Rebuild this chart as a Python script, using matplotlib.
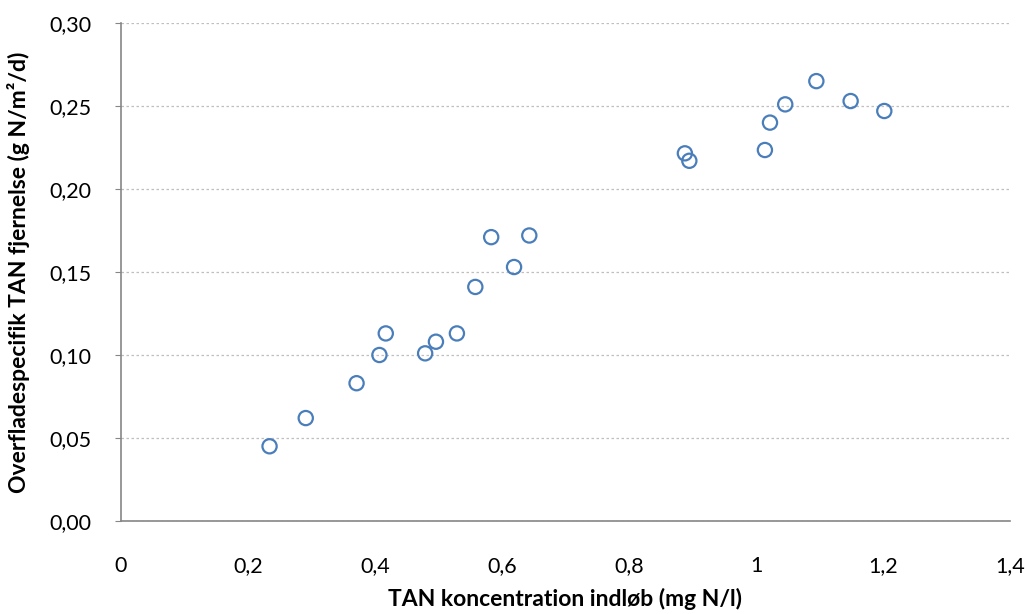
import matplotlib.pyplot as plt
from matplotlib.ticker import FuncFormatter

# TAN koncentration indløb (mg N/l) vs. overfladespecifik fjernelse (g N/m2/d)
tan_ind = [0.234, 0.291, 0.371, 0.407, 0.417, 0.479, 0.496, 0.529, 0.558, 0.583,
           0.619, 0.643, 0.888, 0.895, 1.014, 1.022, 1.046, 1.095, 1.149, 1.202]
tan_fjern = [0.045, 0.062, 0.083, 0.100, 0.113, 0.101, 0.108, 0.113, 0.141, 0.171,
             0.153, 0.172, 0.2215, 0.217, 0.2235, 0.240, 0.251, 0.265, 0.253, 0.247]

plt.rcParams['font.family'] = ['Lato', 'DejaVu Sans']

fig = plt.figure(figsize=(10.25, 6.14), dpi=100)
ax = fig.add_axes([0.118, 0.1515, 0.8674, 0.811])

ax.scatter(tan_ind, tan_fjern, s=105, facecolors='none', edgecolors='#4A7EBB',
           linewidths=1.6, zorder=3)

ax.set_xlim(0, 1.4)
ax.set_ylim(0, 0.30)
ax.set_xticks([0, 0.2, 0.4, 0.6, 0.8, 1.0, 1.2, 1.4])
ax.set_yticks([0, 0.05, 0.10, 0.15, 0.20, 0.25, 0.30])
ax.xaxis.set_major_formatter(FuncFormatter(lambda v, p: f"{v:g}".replace('.', ',')))
ax.yaxis.set_major_formatter(FuncFormatter(lambda v, p: f"{v:.2f}".replace('.', ',')))

ax.grid(axis='y', linestyle=(0, (2, 2)), color='#BFBFBF', linewidth=0.9)
ax.set_axisbelow(True)
for s in ['top', 'right']:
    ax.spines[s].set_visible(False)
for s in ['left', 'bottom']:
    ax.spines[s].set_color('#868686')
    ax.spines[s].set_linewidth(1.2)

ax.tick_params(axis='x', length=0, pad=25, labelsize=15.5)
ax.tick_params(axis='y', length=4, color='#868686', pad=17, labelsize=15.5)

ax.set_xlabel('TAN koncentration indløb (mg N/l)', fontsize=16.5, fontweight='bold', labelpad=9)
ax.set_ylabel('Overfladespecifik TAN fjernelse (g N/m²/d)', fontsize=16.5, fontweight='bold', labelpad=14)

fig.savefig('out.png', dpi=100)
